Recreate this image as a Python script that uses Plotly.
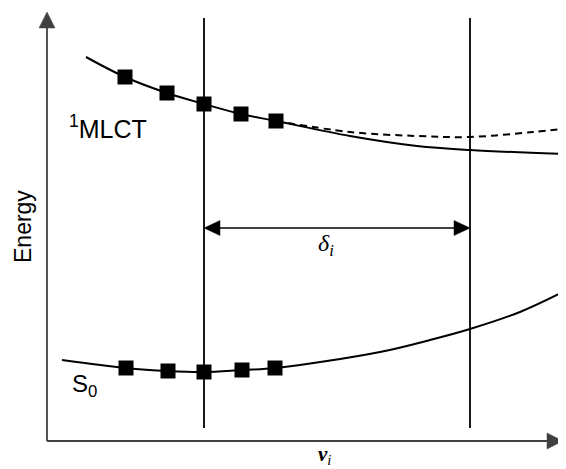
import plotly.graph_objects as go

# Upper state (1MLCT) solid curve
mlct_x = [0.78, 1.56, 2.40, 3.14, 3.88, 4.58, 6.06, 7.40, 8.46, 10.32]
mlct_y = [7.68, 7.28, 6.96, 6.74, 6.54, 6.40, 6.10, 5.90, 5.82, 5.74]
# Upper state dashed branch
dash_x = [4.58, 6.06, 7.40, 8.46, 9.72, 10.32]
dash_y = [6.40, 6.18, 6.10, 6.08, 6.18, 6.24]
# Ground state S0 curve
s0_x = [0.30, 1.58, 2.42, 3.14, 3.90, 4.58, 6.66, 7.66, 8.46, 9.46, 10.32]
s0_y = [1.62, 1.46, 1.40, 1.38, 1.42, 1.46, 1.78, 2.02, 2.24, 2.58, 2.98]
# Sampled points
mlct_pts_x = [1.56, 2.40, 3.14, 3.88, 4.58]
mlct_pts_y = [7.28, 6.96, 6.74, 6.54, 6.40]
s0_pts_x = [1.58, 2.42, 3.14, 3.90, 4.56]
s0_pts_y = [1.46, 1.40, 1.38, 1.42, 1.46]
# Vertical reference positions
vlines_x = [3.14, 8.46]
vline_y = [0.26, 8.46]
delta_y = 4.26

X_MAX, Y_MAX = 10.32, 8.58
PW, PH = 516, 429  # plot area in px (50 px per unit)


def px(x):
    return x / X_MAX


def py(y):
    return y / Y_MAX


fig = go.Figure()
for vx in vlines_x:
    fig.add_trace(go.Scatter(x=[vx, vx], y=vline_y, mode="lines",
                             line=dict(color="black", width=1.8), showlegend=False, hoverinfo="skip"))
fig.add_trace(go.Scatter(x=mlct_x, y=mlct_y, mode="lines", line=dict(color="black", width=2, shape="spline"),
                         showlegend=False))
fig.add_trace(go.Scatter(x=dash_x, y=dash_y, mode="lines",
                         line=dict(color="black", width=2, shape="spline", dash="7px,5px"), showlegend=False))
fig.add_trace(go.Scatter(x=s0_x, y=s0_y, mode="lines", line=dict(color="black", width=2, shape="spline"),
                         showlegend=False))
fig.add_trace(go.Scatter(x=mlct_pts_x, y=mlct_pts_y, mode="markers",
                         marker=dict(symbol="square", size=15, color="black"), showlegend=False))
fig.add_trace(go.Scatter(x=s0_pts_x, y=s0_pts_y, mode="markers",
                         marker=dict(symbol="square", size=15, color="black"), showlegend=False))

shapes = []
AX = "#404040"
# axes
shapes.append(dict(type="line", xref="paper", yref="paper", x0=0, y0=0, x1=1 - 14 / PW, y1=0,
                   line=dict(color=AX, width=1.8)))
shapes.append(dict(type="line", xref="paper", yref="paper", x0=0, y0=0, x1=0, y1=1 - 14 / PH,
                   line=dict(color=AX, width=1.8)))


def tri(tip_x, tip_y, dx, dy, hw_x, hw_y, color):
    bx, by = tip_x + dx, tip_y + dy
    return dict(type="path", xref="paper", yref="paper",
                path=f"M{tip_x},{tip_y} L{bx + hw_x},{by + hw_y} L{bx - hw_x},{by - hw_y} Z",
                fillcolor=color, line=dict(color=color, width=0.5))


# axis arrowheads
shapes.append(tri(1, 0, -16 / PW, 0, 0, 8 / PH, AX))
shapes.append(tri(0, 1, 0, -16 / PH, 8 / PW, 0, AX))
# double arrow
shapes.append(dict(type="line", xref="paper", yref="paper", x0=px(vlines_x[0]) + 10 / PW, y0=py(delta_y),
                   x1=px(vlines_x[1]) - 10 / PW, y1=py(delta_y), line=dict(color="black", width=1.6)))
shapes.append(tri(px(vlines_x[0]), py(delta_y), 16 / PW, 0, 0, 7.5 / PH, "black"))
shapes.append(tri(px(vlines_x[1]), py(delta_y), -16 / PW, 0, 0, 7.5 / PH, "black"))


def label(x, y, text, size, family="Liberation Sans", **kw):
    return dict(x=px(x), y=py(y), xref="paper", yref="paper", text=text, showarrow=False,
                xanchor=kw.pop("xanchor", "center"), yanchor="middle",
                font=dict(family=family, size=size, color="black"), **kw)


ann = [
    label(5.58, 3.92, "<i>δ<sub>i</sub></i>", 24, family="Liberation Serif"),
    label(0.40, 6.28, "<sup>1</sup>MLCT", 25, xanchor="left"),
    label(0.46, 1.12, "S<sub>0</sub>", 24, xanchor="left"),
    label(-0.48, 4.28, "Energy", 23, textangle=-90),
    label(5.54, -0.28, "<b><i>v</i></b><i><sub>i</sub></i>", 21, family="Liberation Serif"),
]

# page body has an 8px margin: shrink the figure and shift margins to compensate
fig.update_layout(
    width=558, height=461,
    margin=dict(l=39, r=3, t=4, b=28),
    paper_bgcolor="white", plot_bgcolor="white",
    xaxis=dict(range=[0, X_MAX], visible=False, fixedrange=True),
    yaxis=dict(range=[0, Y_MAX], visible=False, fixedrange=True),
    shapes=shapes,
    annotations=ann,
)
fig.write_html("out.html")
